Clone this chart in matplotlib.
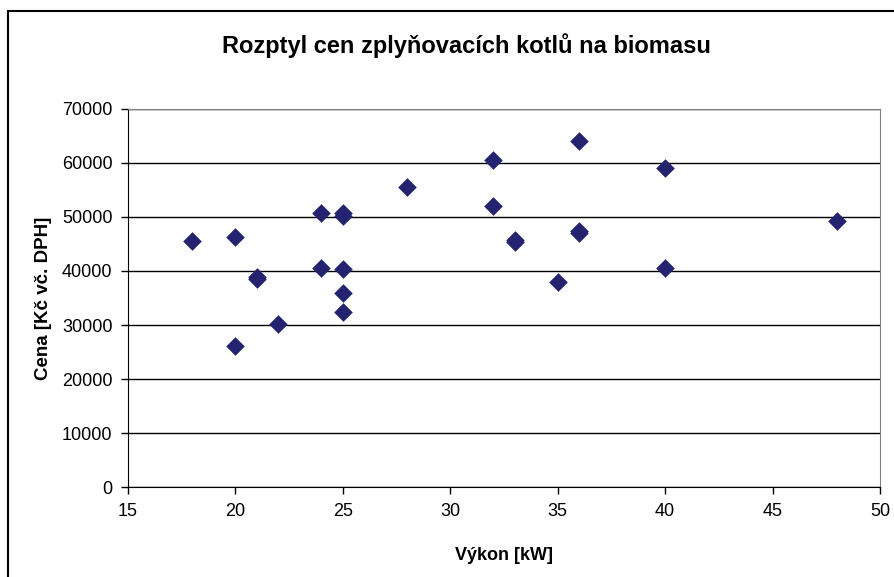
import matplotlib.pyplot as plt
from matplotlib.patches import Rectangle

# Vykon [kW] vs. cena [Kc vc. DPH]
vykon = [18, 20, 20, 21, 21, 22, 24, 24, 25, 25, 25, 25, 25, 28,
         32, 32, 33, 33, 35, 36, 36, 36, 40, 40, 48]
cena = [45500, 46300, 26100, 38500, 38800, 30200, 50700, 40600, 50200,
        50700, 40300, 36000, 32400, 55500, 60500, 52000, 45300, 45700,
        37900, 64000, 47100, 47400, 59100, 40600, 49300]

xticks = [15, 20, 25, 30, 35, 40, 45, 50]
yticks = [0, 10000, 20000, 30000, 40000, 50000, 60000, 70000]

plt.rcParams['font.family'] = ['Liberation Sans', 'DejaVu Sans']

fig = plt.figure(figsize=(8.94, 5.77), dpi=100)
# chart frame (runs off the right and bottom edge)
fig.patches.append(Rectangle((8 / 894, -0.05), 1.0, 1 - 11 / 577 + 0.05,
                             transform=fig.transFigure, fill=False,
                             edgecolor='black', linewidth=1.5))

ax = fig.add_axes([127.7 / 894, 1 - 487.3 / 577,
                   (880 - 127.7) / 894, (487.3 - 108.7) / 577])
ax.scatter(vykon, cena, marker='D', s=90, color='#23236f', zorder=3,
           linewidths=0)

ax.set_xlim(15, 50)
ax.set_ylim(0, 70000)
ax.set_xticks(xticks)
ax.set_yticks(yticks)
ax.tick_params(direction='out', length=5, width=1, labelsize=13, pad=6)
ax.yaxis.grid(True, color='black', linewidth=1)
ax.set_axisbelow(True)

for s in ['top', 'right']:
    ax.spines[s].set_color('#808080')
for s in ['left', 'bottom']:
    ax.spines[s].set_color('black')

ax.set_xlabel('Výkon [kW]', fontsize=13, fontweight='bold', labelpad=20)
ax.set_ylabel('Cena [Kč vč. DPH]', fontsize=13.5, fontweight='bold', labelpad=7)
fig.text(466 / 894, 1 - 46 / 577, 'Rozptyl cen zplyňovacích kotlů na biomasu',
         ha='center', va='center', fontsize=17, fontweight='bold')

fig.savefig('out.png', dpi=100)
